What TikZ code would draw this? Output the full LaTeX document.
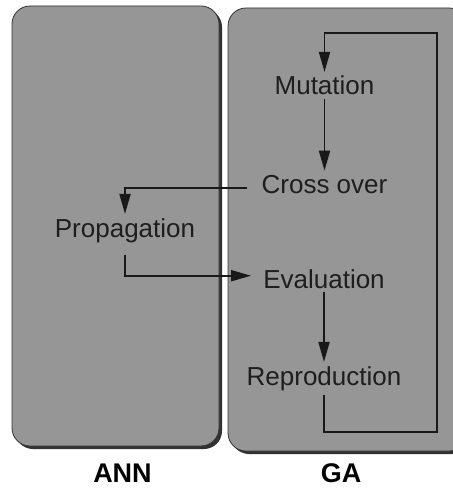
\documentclass[tikz,border=0pt]{standalone}
\usepackage{fontspec}
\setmainfont{Liberation Sans}
\usepackage{xcolor}
\usetikzlibrary{arrows.meta}

\definecolor{panelgray}{RGB}{150,150,150}
\definecolor{shadowgray}{RGB}{50,50,50}
\definecolor{textgray}{RGB}{30,30,30}

\begin{document}
\begin{tikzpicture}[x=1pt, y=-1pt]
	\tikzstyle{panel}=[fill=panelgray, draw=shadowgray, line width=0.8pt, rounded corners=18pt]
	\tikzstyle{panelshadow}=[fill=shadowgray, rounded corners=18pt]
	\tikzstyle{label}=[anchor=base, inner sep=4pt, text=textgray, font=\fontsize{26}{30}\selectfont]
	\tikzstyle{title}=[anchor=base, inner sep=4pt, font=\fontsize{27}{31}\selectfont\bfseries]
	\tikzstyle{flow}=[draw=black!90, line width=1.8pt, -{Triangle[length=20pt,width=11pt]}]

	\useasboundingbox (0,0) rectangle (452,492);
	\fill[white] (0,0) rectangle (452,492);

	% ANN and GA panels
	\fill[panelshadow] (15,9) rectangle (222,449);
	\draw[panel] (12,6) rectangle (219,446);
	\fill[panelshadow] (231,11) rectangle (470,454);
	\draw[panel] (228,8) rectangle (467,451);

	\draw node[label] at (324.5, 95) (mut) {Mutation};
	\draw node[label] at (324.5, 193) (cross) {Cross over};
	\draw node[label] at (125, 237) (prop) {Propagation};
	\draw node[label] at (324, 288) (eval) {Evaluation};
	\draw node[label] at (324, 385) (repr) {Reproduction};

	\draw node[title] at (122.5, 482) (ann) {ANN};
	\draw node[title] at (341, 482) (ga) {GA};

	\coordinate (loopbr) at (437, 432);
	\coordinate (looptr) at (437, 33);

	\draw[flow] (mut.south) -- (cross.north);
	\draw[flow, shorten <=10pt] ([yshift=-4pt]cross.west) -| (prop.north);
	\draw[flow, shorten <=8pt, shorten >=8pt] (prop.south) |- ([yshift=3pt]eval.west);
	\draw[flow] (eval.south) -- (repr.north);
	\draw[flow] (repr.south) |- (loopbr) -- (looptr) -| (mut.north);
\end{tikzpicture}
\end{document}
